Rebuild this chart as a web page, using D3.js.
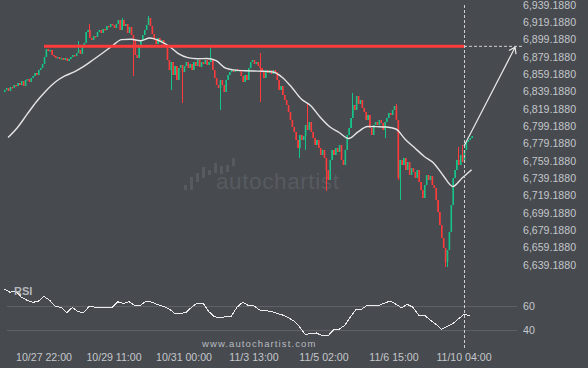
<!DOCTYPE html>
<html>
<head>
<meta charset="utf-8">
<script src="https://cdn.jsdelivr.net/npm/d3@7"></script>
<style>
  html, body { margin: 0; padding: 0; background: #474a4f; }
  svg { display: block; font-family: "Liberation Sans", Arial, sans-serif; }
</style>
</head>
<body>
<svg id="chart" width="588" height="368"></svg>
<script>
// Hourly closes (open = previous close)
const firstOpen = 6838.8;
const closes = [
  6841.1, 6843.4, 6840.0, 6844.6, 6843.4, 6846.9, 6845.7, 6849.2, 6846.9, 6851.5,
  6845.7, 6852.7, 6853.8, 6850.4, 6855.0, 6857.3, 6860.7, 6858.4, 6864.2, 6866.5,
  6871.1, 6879.2, 6888.4, 6886.1, 6887.3, 6881.5, 6880.4, 6878.0, 6879.2, 6876.9,
  6878.0, 6875.7, 6878.0, 6874.6, 6876.9, 6879.2, 6881.5, 6880.4, 6883.8, 6887.3,
  6882.7, 6891.9, 6895.4, 6908.0, 6910.3, 6901.1, 6898.8, 6903.4, 6902.3, 6908.0,
  6910.3, 6906.9, 6911.5, 6910.3, 6915.0, 6913.8, 6917.3, 6916.1, 6912.6, 6917.3,
  6921.9, 6910.3, 6921.9, 6915.0, 6917.3, 6906.9, 6913.8, 6904.6, 6898.8, 6881.5,
  6878.0, 6893.0, 6898.8, 6904.6, 6910.3, 6916.1, 6924.2, 6915.0, 6905.7, 6898.8,
  6894.2, 6901.1, 6896.5, 6898.8, 6893.0, 6890.7, 6875.7, 6864.2, 6873.4, 6858.4,
  6868.8, 6852.7, 6866.5, 6870.0, 6861.9, 6868.8, 6873.4, 6866.5, 6871.1, 6864.2,
  6873.4, 6868.8, 6875.7, 6867.7, 6873.4, 6871.1, 6875.7, 6870.0, 6873.4, 6875.7,
  6864.2, 6855.0, 6846.9, 6843.4, 6852.7, 6846.9, 6838.8, 6852.7, 6858.4, 6861.9,
  6864.2, 6861.9, 6865.3, 6863.0, 6864.2, 6857.3, 6850.4, 6858.4, 6852.7, 6866.5,
  6873.4, 6875.7, 6871.1, 6873.4, 6868.8, 6866.5, 6861.9, 6855.0, 6864.2, 6860.7,
  6864.2, 6859.6, 6864.2, 6861.9, 6852.7, 6841.1, 6845.7, 6835.4, 6829.6, 6823.8,
  6815.7, 6806.5, 6798.4, 6792.7, 6783.4, 6774.2, 6789.2, 6783.4, 6788.0, 6800.7,
  6795.0, 6804.2, 6792.7, 6785.7, 6777.7, 6783.4, 6774.2, 6766.1, 6771.9, 6762.7,
  6748.8, 6737.3, 6760.4, 6771.9, 6766.1, 6774.2, 6769.6, 6777.7, 6760.4, 6754.6,
  6771.9, 6789.2, 6797.3, 6808.8, 6823.8, 6818.0, 6834.2, 6825.0, 6829.6, 6820.4,
  6815.7, 6806.5, 6812.3, 6797.3, 6789.2, 6800.7, 6804.2, 6800.7, 6806.5, 6803.0,
  6795.0, 6804.2, 6808.8, 6814.6, 6812.3, 6818.0, 6822.7, 6806.5, 6739.6, 6760.4,
  6754.6, 6762.7, 6748.8, 6758.0, 6743.0, 6751.1, 6746.5, 6739.6, 6748.8, 6735.0,
  6725.7, 6716.5, 6731.5, 6743.0, 6737.3, 6741.9, 6731.5, 6728.0, 6714.2, 6700.4,
  6685.4, 6670.4, 6658.8, 6642.7, 6656.5, 6677.3, 6708.4, 6739.6, 6748.8, 6760.4,
  6754.6, 6766.1, 6758.0, 6771.9, 6781.1, 6783.4, 6785.7, 6788.0
];

// Long wicks: [bar, price]
const highSpikes = [
  [39, 6897.7], [45, 6917.3], [62, 6924.2], [76, 6926.5], [109, 6891.9], [135, 6883.8],
  [160, 6826.1], [184, 6837.7], [207, 6825.0], [240, 6775.4], [242, 6777.7]
];
const lowSpikes = [
  [68, 6857.3], [88, 6841.1], [94, 6826.1], [114, 6818.0], [135, 6827.3], [156, 6762.7],
  [159, 6771.9], [170, 6724.6], [201, 6785.7], [208, 6737.3], [209, 6714.2], [233, 6636.9],
  [234, 6636.9]
];

// Moving average, one value every 5 bars from bar 2
const maStart = 2;
const maStep = 5;
const maValues = [
  6786.3, 6797.9, 6812.9, 6827.6, 6840.0, 6850.3, 6857.3, 6862.1, 6868.4, 6876.0,
  6883.8, 6891.9, 6899.2, 6899.7, 6897.9, 6901.1, 6897.9, 6891.9, 6883.1, 6878.5,
  6877.2, 6877.4, 6874.9, 6866.3, 6864.0, 6863.4, 6863.0, 6862.7, 6861.9, 6855.6,
  6844.0, 6830.7, 6822.9, 6809.6, 6798.7, 6792.1, 6785.2, 6792.7, 6799.0, 6798.8,
  6798.4, 6796.1, 6784.0, 6774.2, 6764.4, 6756.7, 6742.5, 6729.8, 6739.6, 6749.2
];

// RSI, one value every 3 bars
const rsiStep = 3;
const rsiValues = [
  74, 71.5, 72.5, 67.5, 64.8, 63, 64, 68, 64.7, 59.8,
  58.9, 54.5, 58.8, 55.2, 54.5, 60, 58.9, 58.9, 58.9, 58.9,
  63.5, 62.2, 63.5, 60.5, 60.6, 64, 63.2, 61.2, 59.8, 57.8,
  53.9, 53.9, 54.5, 59, 62.5, 62.5, 55.5, 51.1, 50, 51.2,
  51.5, 59, 63.2, 60.5, 60, 56.7, 56.1, 55.5, 53.9, 52.5,
  50.5, 47.5, 42.8, 36.5, 36.8, 37.5, 35.3, 35, 40, 40.6,
  44, 51, 57.2, 57.5, 60.8, 60.3, 60.5, 62.4, 64.2, 61.5,
  58.5, 61.3, 59, 52.5, 52.5, 48.5, 45, 40.6, 43, 45.2,
  49.2, 53, 52
];

const priceTicks = [
  6639.188, 6659.188, 6679.188, 6699.188, 6719.188, 6739.188, 6759.188, 6779.188,
  6799.188, 6819.188, 6839.188, 6859.188, 6879.188, 6899.188, 6919.188, 6939.188
];
const timeLabels = ['10/27 22:00', '10/29 11:00', '10/31 00:00', '11/3 13:00', '11/5 02:00', '11/6 15:00', '11/10 04:00'];
const timeLabelBars = [21, 58, 95, 132, 169, 206, 243];
const rsiTicks = [40, 60];

// Pattern: resistance and forecast
const resistance = 6891.5;
const resistanceStartBar = 21;
const signalBar = 243;
const forecastStart = 6776.5;
const targetBar = 270;
const targetPrice = 6890.5;
const extensionEndBar = 274;

const UP = '#16c488';
const DOWN = '#ff3b3b';
const TEXT = '#c4c7cb';

const svg = d3.select('#chart');

const x = d3.scaleLinear().domain([0, 37]).range([4.27, 4.27 + 37 * 1.892]);
const y = d3.scaleLinear().domain([6639.188, 6939.188]).range([265, 5]);
const yRsi = d3.scaleLinear().domain([40, 60]).range([330, 306]);

// watermark
const mark = svg.append('g').attr('fill', '#575b60');
[[184, 185, 5], [190, 177, 13], [196, 173, 9], [202, 167, 11], [208, 170, 5],
 [214, 163, 10], [220, 166, 8], [226, 165, 7], [232, 158, 8]].forEach(([bx, by, bh]) => {
  mark.append('rect').attr('x', bx).attr('y', by).attr('width', 3).attr('height', bh);
});
mark.append('text')
  .attr('x', 216).attr('y', 189)
  .attr('font-size', 22.5)
  .attr('letter-spacing', 0.6)
  .text('autochartist');

// RSI grid
svg.append('g').selectAll('line')
  .data(rsiTicks)
  .enter()
  .append('line')
  .attr('x1', 7).attr('x2', 517)
  .attr('y1', d => Math.round(yRsi(d)) + 0.5)
  .attr('y2', d => Math.round(yRsi(d)) + 0.5)
  .attr('stroke', '#5e6267');

svg.append('g').selectAll('text')
  .data(rsiTicks)
  .enter()
  .append('text')
  .attr('x', 523)
  .attr('y', d => yRsi(d))
  .attr('dy', '0.35em')
  .attr('font-size', 10.6)
  .attr('fill', TEXT)
  .text(d => d);

// candles
const bars = closes.map((c, i) => {
  const o = i === 0 ? firstOpen : closes[i - 1];
  return { i, o, c, h: Math.max(o, c), l: Math.min(o, c) };
});
highSpikes.forEach(([i, v]) => { bars[i].h = Math.max(bars[i].h, v); });
lowSpikes.forEach(([i, v]) => { bars[i].l = Math.min(bars[i].l, v); });

const candles = svg.append('g');
candles.selectAll('.wick')
  .data(bars)
  .enter()
  .append('rect')
  .attr('class', 'wick')
  .attr('shape-rendering', 'crispEdges')
  .attr('x', d => Math.round(x(d.i)))
  .attr('width', 1)
  .attr('y', d => y(d.h))
  .attr('height', d => Math.max(1, y(d.l) - y(d.h)))
  .attr('fill', d => (d.c >= d.o ? UP : DOWN));

candles.selectAll('.body')
  .data(bars)
  .enter()
  .append('rect')
  .attr('class', 'body')
  .attr('x', d => x(d.i) - 0.3)
  .attr('width', 1.6)
  .attr('y', d => y(Math.max(d.o, d.c)))
  .attr('height', d => Math.max(1.5, Math.abs(y(d.o) - y(d.c))))
  .attr('fill', d => (d.c >= d.o ? UP : DOWN));

// moving average
svg.append('path')
  .datum(maValues)
  .attr('fill', 'none')
  .attr('stroke', '#e4e4e4')
  .attr('stroke-width', 1.4)
  .attr('d', d3.line()
    .x((d, k) => x(maStart + k * maStep))
    .y(d => y(d))
    .curve(d3.curveMonotoneX));

// resistance
svg.append('line')
  .attr('x1', x(resistanceStartBar)).attr('x2', x(signalBar))
  .attr('y1', y(resistance)).attr('y2', y(resistance))
  .attr('stroke', DOWN)
  .attr('stroke-width', 3);

svg.append('line')
  .attr('x1', x(signalBar)).attr('x2', x(extensionEndBar))
  .attr('y1', y(resistance)).attr('y2', y(resistance))
  .attr('stroke', '#d0d0d0')
  .attr('stroke-dasharray', '3,2');

// signal time marker
svg.append('line')
  .attr('x1', Math.round(x(signalBar)) + 0.5).attr('x2', Math.round(x(signalBar)) + 0.5)
  .attr('y1', y(6939.188)).attr('y2', 350)
  .attr('stroke', '#d0d0d0')
  .attr('stroke-dasharray', '3,2');

// forecast arrow
const ax0 = x(signalBar);
const ay0 = y(forecastStart);
const ax1 = x(targetBar);
const ay1 = y(targetPrice);
const ang = Math.atan2(ay1 - ay0, ax1 - ax0);
const head = [ang + Math.PI - 0.6, ang + Math.PI + 0.6].map(a => [ax1 + 7 * Math.cos(a), ay1 + 7 * Math.sin(a)]);
svg.append('path')
  .attr('fill', 'none')
  .attr('stroke', '#e8e8e8')
  .attr('stroke-width', 1.2)
  .attr('d', `M${ax0},${ay0}L${ax1},${ay1}M${head[0][0]},${head[0][1]}L${ax1},${ay1}L${head[1][0]},${head[1][1]}`);

// RSI line
svg.append('path')
  .datum(rsiValues)
  .attr('fill', 'none')
  .attr('stroke', '#ececec')
  .attr('stroke-width', 1)
  .attr('shape-rendering', 'crispEdges')
  .attr('d', d3.line()
    .x((d, k) => x(k * rsiStep))
    .y(d => yRsi(d)));

svg.append('text')
  .attr('x', 14).attr('y', 295)
  .attr('font-size', 11)
  .attr('font-weight', 'bold')
  .attr('fill', '#b4b8bc')
  .text('RSI');

// price axis
svg.append('g').selectAll('text')
  .data(priceTicks)
  .enter()
  .append('text')
  .attr('x', 523)
  .attr('y', d => y(d))
  .attr('dy', '0.35em')
  .attr('font-size', 10.6)
  .attr('fill', TEXT)
  .text(d => d3.format(',.4f')(d));

// time axis
svg.append('g').selectAll('text')
  .data(timeLabels)
  .enter()
  .append('text')
  .attr('x', (d, k) => x(timeLabelBars[k]))
  .attr('y', 360.5)
  .attr('text-anchor', 'middle')
  .attr('font-size', 10.6)
  .attr('fill', TEXT)
  .text(d => d);

svg.append('text')
  .attr('x', 202).attr('y', 347)
  .attr('font-size', 9.5)
  .attr('letter-spacing', 1.1)
  .attr('fill', '#b8bcc0')
  .text('www.autochartist.com');
</script>
</body>
</html>
